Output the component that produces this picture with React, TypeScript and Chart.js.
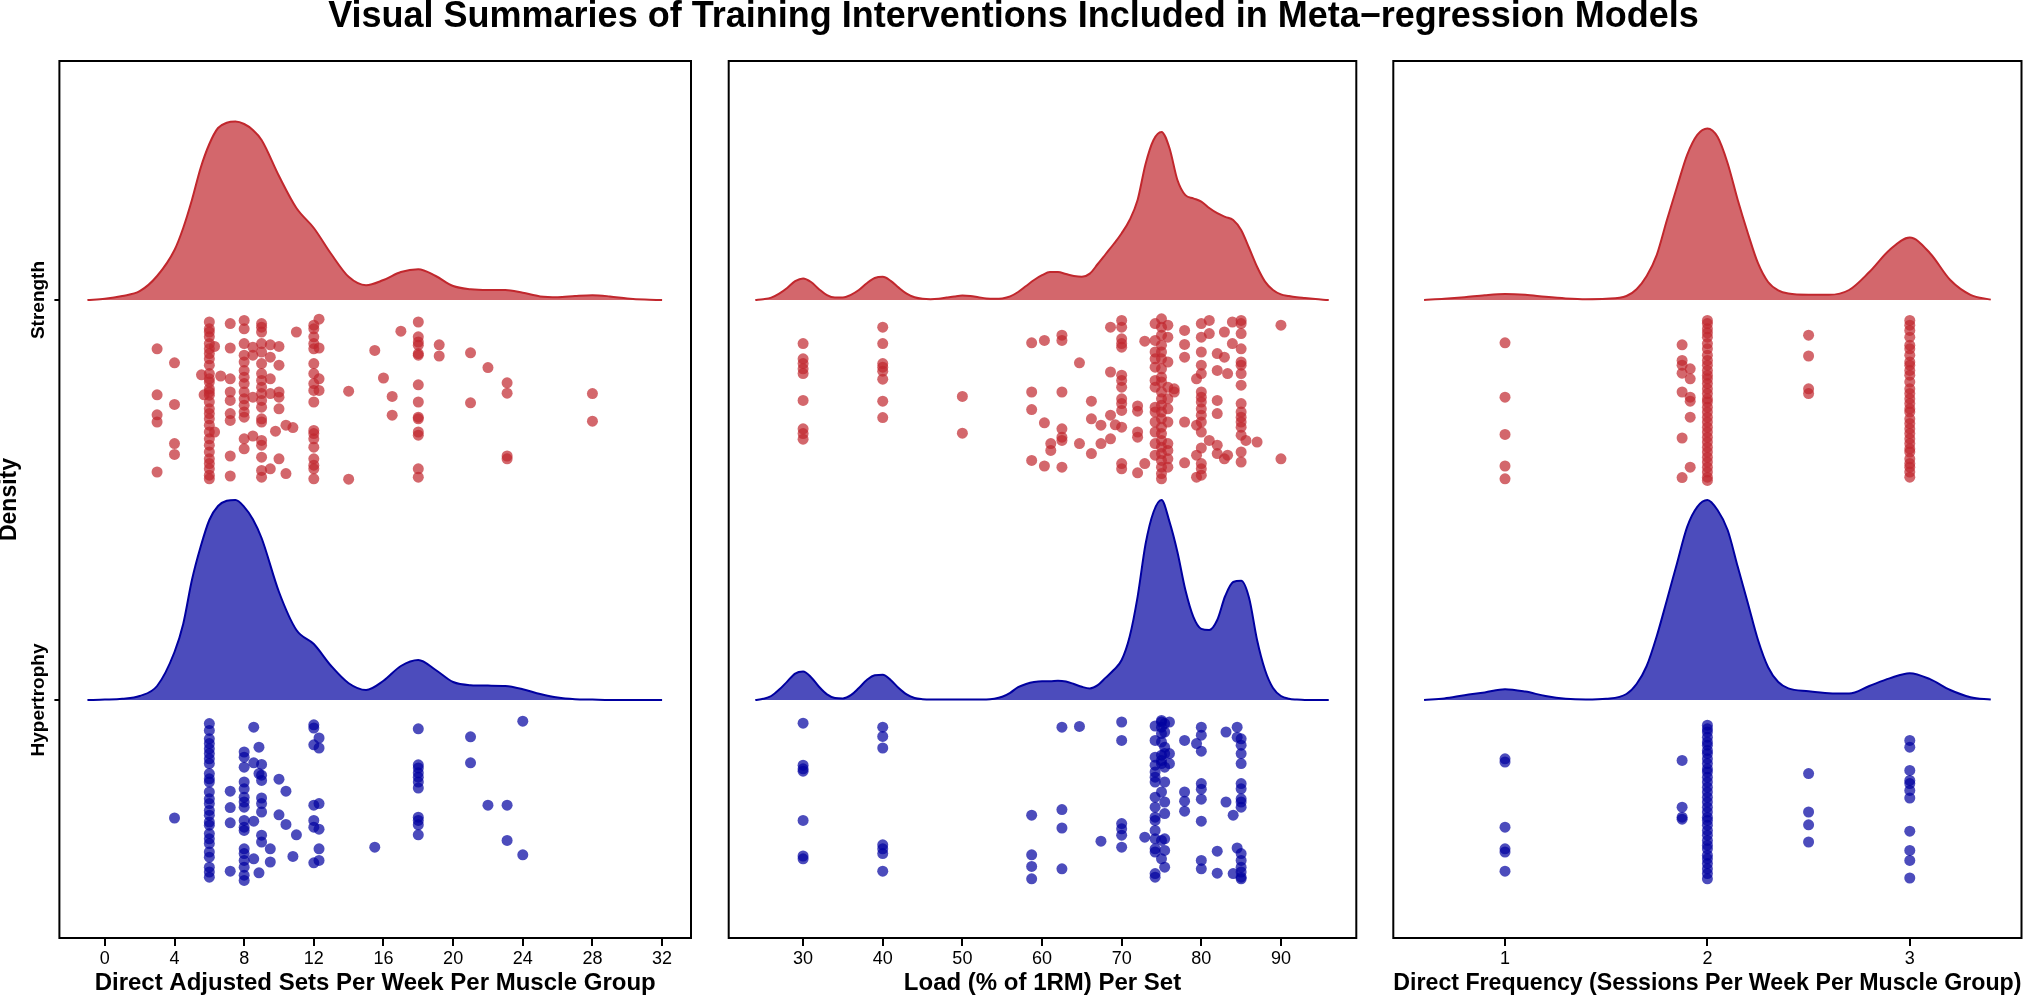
import React, { useEffect, useRef } from 'react';
import { Chart, registerables } from 'chart.js';

Chart.register(...registerables);

// ---------------- DATA ----------------
const chartTitle = 'Visual Summaries of Training Interventions Included in Meta\u2212regression Models';
const groupLabels: [string, number][] = [['Strength', 2], ['Hypertrophy', 1]];
const yLimits = [0.405, 2.5975];

// Panel 1: direct adjusted sets
const setsTitle = 'Direct Adjusted Sets Per Week Per Muscle Group';
const setsLimits = [-2.61, 33.66];
const setsTicks = [0, 4, 8, 12, 16, 20, 24, 28, 32];
const setsGrid = [-1, 0, 1, 2, 3, 4, 4.5, 5, 5.5, 6, 6.5, 7, 7.5, 8, 8.5, 9, 10, 11, 12, 13, 14, 15, 16, 17, 18, 19, 20, 21, 22, 23, 24, 25, 26, 27, 28, 29, 30, 31, 32];
const setsStrengthDensity = [0, 0.003, 0.01, 0.022, 0.06, 0.125, 0.18, 0.25, 0.33, 0.39, 0.43, 0.443, 0.446, 0.44, 0.425, 0.4, 0.31, 0.23, 0.18, 0.115, 0.058, 0.037, 0.05, 0.07, 0.077, 0.06, 0.035, 0.027, 0.025, 0.025, 0.018, 0.009, 0.007, 0.01, 0.012, 0.009, 0.004, 0.001, 0];
const setsHyperDensity = [0, 0.001, 0.003, 0.01, 0.035, 0.12, 0.19, 0.3, 0.383, 0.45, 0.485, 0.498, 0.5, 0.483, 0.452, 0.405, 0.27, 0.175, 0.14, 0.085, 0.042, 0.025, 0.048, 0.085, 0.1, 0.075, 0.045, 0.037, 0.036, 0.035, 0.027, 0.015, 0.006, 0.002, 0.001, 0, 0, 0, 0];
// [x value, drops below the ridge baseline]
const setsStrengthPoints: [number, number[]][] = [
  [3, [0.122, 0.237, 0.287, 0.305, 0.43]],
  [4, [0.157, 0.261, 0.359, 0.386]],
  [5.55, [0.187]],
  [5.7, [0.237]],
  [6, [0.055, 0.072, 0.08, 0.092, 0.109, 0.122, 0.134, 0.147, 0.163, 0.184, 0.197, 0.205, 0.222, 0.23, 0.238, 0.255, 0.272, 0.284, 0.297, 0.313, 0.33, 0.347, 0.363, 0.38, 0.397, 0.409, 0.422, 0.438, 0.447]],
  [6.3, [0.116, 0.33]],
  [6.65, [0.19]],
  [7.2, [0.059, 0.12, 0.197, 0.23, 0.251, 0.284, 0.301, 0.39, 0.44]],
  [8, [0.051, 0.072, 0.109, 0.138, 0.155, 0.176, 0.193, 0.209, 0.23, 0.247, 0.263, 0.28, 0.293, 0.347, 0.372]],
  [8.5, [0.118, 0.138, 0.243, 0.34]],
  [9, [0.059, 0.068, 0.08, 0.109, 0.13, 0.159, 0.184, 0.201, 0.218, 0.234, 0.251, 0.268, 0.297, 0.305, 0.351, 0.363, 0.393, 0.426, 0.443]],
  [9.5, [0.112, 0.143, 0.197, 0.234, 0.422]],
  [9.8, [0.328]],
  [10, [0.116, 0.163, 0.23, 0.243, 0.272, 0.397]],
  [10.4, [0.313, 0.434]],
  [10.8, [0.319]],
  [11, [0.08]],
  [12, [0.063, 0.072, 0.092, 0.109, 0.122, 0.159, 0.184, 0.209, 0.226, 0.255, 0.326, 0.334, 0.347, 0.368, 0.397, 0.413, 0.422, 0.447]],
  [12.3, [0.048, 0.12, 0.197, 0.226]],
  [14, [0.228, 0.448]],
  [15.5, [0.126]],
  [16, [0.195]],
  [16.5, [0.241, 0.288]],
  [17, [0.078]],
  [18, [0.055, 0.092, 0.105, 0.113, 0.134, 0.138, 0.212, 0.255, 0.293, 0.297, 0.33, 0.338, 0.422, 0.443]],
  [19.2, [0.112, 0.14]],
  [21, [0.132, 0.257]],
  [22, [0.169]],
  [23.1, [0.207, 0.233, 0.39, 0.397]],
  [28, [0.234, 0.303]],
];
const setsHyperPoints: [number, number[]][] = [
  [4, [0.295]],
  [6, [0.059, 0.076, 0.097, 0.109, 0.122, 0.134, 0.147, 0.159, 0.184, 0.197, 0.205, 0.23, 0.247, 0.259, 0.276, 0.288, 0.305, 0.313, 0.334, 0.347, 0.359, 0.38, 0.393, 0.418, 0.43, 0.443]],
  [7.2, [0.228, 0.269, 0.307, 0.428]],
  [8, [0.13, 0.143, 0.168, 0.205, 0.222, 0.243, 0.255, 0.268, 0.301, 0.318, 0.326, 0.372, 0.384, 0.401, 0.418, 0.438, 0.451]],
  [8.55, [0.068, 0.157, 0.303, 0.397]],
  [8.85, [0.118, 0.184, 0.432]],
  [9, [0.161, 0.188, 0.201, 0.245, 0.259, 0.28, 0.338, 0.355]],
  [9.5, [0.372, 0.405]],
  [10, [0.198, 0.287]],
  [10.4, [0.228, 0.311]],
  [10.8, [0.391]],
  [11, [0.337]],
  [12, [0.062, 0.07, 0.112, 0.263, 0.301, 0.318, 0.407]],
  [12.3, [0.095, 0.12, 0.259, 0.323, 0.372, 0.401]],
  [15.5, [0.368]],
  [18, [0.072, 0.162, 0.17, 0.182, 0.193, 0.205, 0.22, 0.293, 0.301, 0.312, 0.337]],
  [21, [0.092, 0.157]],
  [22, [0.263]],
  [23.1, [0.263, 0.351]],
  [24, [0.053, 0.387]],
];

// Panel 2: load
const loadTitle = 'Load (% of 1RM) Per Set';
const loadLimits = [20.66, 99.46];
const loadTicks = [30, 40, 50, 60, 70, 80, 90];
const loadGrid = [24, 25, 26, 27, 28, 29, 30, 31, 32, 33, 34, 35, 36, 37, 38, 39, 40, 41, 42, 43, 44, 45, 46, 47, 48, 49, 50, 51, 52, 53, 54, 55, 56, 57, 58, 59, 60, 61, 62, 63, 64, 65, 66, 67, 68, 69, 70, 71, 72, 73, 74, 75, 76, 77, 78, 79, 80, 81, 82, 83, 84, 85, 86, 87, 88, 89, 90, 91, 92, 93, 94, 95, 96];
const loadStrengthDensity = [
  0, 0.002, 0.006, 0.016, 0.03, 0.047, 0.054, 0.045, 0.027, 0.012,
  0.006, 0.006, 0.013, 0.025, 0.042, 0.055, 0.058, 0.048, 0.031, 0.016,
  0.007, 0.003, 0.002, 0.003, 0.006, 0.009, 0.011, 0.01, 0.007, 0.004,
  0.003, 0.004, 0.009, 0.02, 0.035, 0.05, 0.062, 0.07, 0.07, 0.065,
  0.06, 0.058, 0.066, 0.09, 0.115, 0.14, 0.167, 0.2, 0.25, 0.34,
  0.4, 0.42, 0.38, 0.3, 0.262, 0.254, 0.246, 0.23, 0.217, 0.208,
  0.2, 0.175, 0.13, 0.083, 0.046, 0.025, 0.014, 0.01, 0.007, 0.005,
  0.003, 0.001, 0,
];
const loadHyperDensity = [
  0, 0.003, 0.01, 0.026, 0.046, 0.066, 0.071, 0.057, 0.033, 0.014,
  0.005, 0.004, 0.012, 0.03, 0.05, 0.062, 0.063, 0.05, 0.03, 0.014,
  0.005, 0.002, 0.001, 0.001, 0.001, 0.001, 0.001, 0.001, 0.001, 0.001,
  0.003, 0.008, 0.018, 0.032, 0.04, 0.045, 0.047, 0.047, 0.048, 0.046,
  0.04, 0.033, 0.029, 0.037, 0.056, 0.075, 0.1, 0.158, 0.258, 0.39,
  0.47, 0.5, 0.446, 0.37, 0.275, 0.208, 0.178, 0.175, 0.2, 0.26,
  0.295, 0.298, 0.255, 0.15, 0.075, 0.03, 0.01, 0.003, 0.001, 0,
  0, 0, 0,
];
const loadStrengthPoints: [number, number[]][] = [
  [30, [0.109, 0.147, 0.159, 0.172, 0.184, 0.251, 0.322, 0.334, 0.348]],
  [40, [0.068, 0.109, 0.159, 0.168, 0.178, 0.198, 0.253, 0.294]],
  [50, [0.241, 0.333]],
  [58.7, [0.107, 0.23, 0.274, 0.401]],
  [60.3, [0.101, 0.307, 0.415]],
  [61.1, [0.359, 0.376]],
  [62.5, [0.088, 0.101, 0.23, 0.322, 0.343, 0.351, 0.418]],
  [64.7, [0.157, 0.359]],
  [66.2, [0.253, 0.297, 0.384]],
  [67.4, [0.313, 0.359]],
  [68.6, [0.068, 0.18, 0.288, 0.347]],
  [69.2, [0.312]],
  [70, [0.051, 0.068, 0.097, 0.109, 0.118, 0.188, 0.201, 0.218, 0.247, 0.259, 0.276, 0.318, 0.409, 0.422]],
  [72, [0.265, 0.278, 0.33, 0.343, 0.432]],
  [72.9, [0.103, 0.409]],
  [74.2, [0.059, 0.101, 0.13, 0.147, 0.168, 0.201, 0.218, 0.268, 0.28, 0.305, 0.33, 0.359, 0.388]],
  [75, [0.047, 0.068, 0.088, 0.113, 0.13, 0.147, 0.172, 0.193, 0.205, 0.23, 0.247, 0.263, 0.28, 0.297, 0.318, 0.334, 0.351, 0.368, 0.384, 0.401, 0.418, 0.434, 0.447]],
  [75.8, [0.063, 0.093, 0.155, 0.218, 0.247, 0.272, 0.305, 0.359, 0.376, 0.397, 0.418]],
  [76.6, [0.222, 0.23]],
  [77.9, [0.076, 0.111, 0.143, 0.305, 0.407]],
  [79.4, [0.197, 0.313, 0.388, 0.443]],
  [80, [0.059, 0.093, 0.13, 0.163, 0.184, 0.23, 0.243, 0.255, 0.272, 0.288, 0.305, 0.33, 0.37, 0.409, 0.422, 0.438]],
  [81, [0.051, 0.084, 0.351]],
  [82, [0.134, 0.176, 0.251, 0.284, 0.363, 0.384]],
  [82.9, [0.08, 0.143, 0.397]],
  [83.3, [0.184, 0.388]],
  [83.9, [0.055, 0.109]],
  [85, [0.051, 0.059, 0.084, 0.122, 0.155, 0.163, 0.184, 0.213, 0.259, 0.28, 0.293, 0.305, 0.318, 0.338, 0.38, 0.405]],
  [85.6, [0.351]],
  [87, [0.355]],
  [90, [0.063, 0.397]],
];
const loadHyperPoints: [number, number[]][] = [
  [30, [0.058, 0.163, 0.172, 0.178, 0.301, 0.39, 0.397]],
  [40, [0.068, 0.091, 0.12, 0.362, 0.372, 0.384, 0.428]],
  [58.7, [0.288, 0.387, 0.416, 0.447]],
  [62.5, [0.068, 0.274, 0.32, 0.422]],
  [64.7, [0.066]],
  [67.4, [0.353]],
  [70, [0.055, 0.101, 0.309, 0.322, 0.338, 0.368]],
  [72.9, [0.343]],
  [74.2, [0.065, 0.101, 0.143, 0.163, 0.18, 0.193, 0.205, 0.243, 0.268, 0.293, 0.301, 0.326, 0.347, 0.372, 0.38, 0.434, 0.443]],
  [75, [0.051, 0.055, 0.068, 0.084, 0.105, 0.138, 0.151, 0.159, 0.23, 0.351, 0.397]],
  [75.4, [0.059, 0.08, 0.118, 0.134, 0.168, 0.205, 0.255, 0.284, 0.347, 0.376, 0.418]],
  [76, [0.055, 0.134, 0.159]],
  [77.9, [0.101, 0.23, 0.253, 0.278]],
  [79.4, [0.109]],
  [80, [0.068, 0.088, 0.128, 0.209, 0.223, 0.248, 0.303, 0.401, 0.422]],
  [82, [0.378, 0.433]],
  [83.1, [0.08, 0.255]],
  [84, [0.288, 0.434]],
  [84.5, [0.068, 0.093, 0.37]],
  [85, [0.097, 0.113, 0.134, 0.159, 0.209, 0.222, 0.247, 0.255, 0.268, 0.384, 0.401, 0.418, 0.43, 0.443, 0.447]],
];

// Panel 3: frequency
const freqTitle = 'Direct Frequency (Sessions Per Week Per Muscle Group)';
const freqLimits = [0.448, 3.552];
const freqTicks = [1, 2, 3];
const freqGrid = [0.6, 0.7, 0.8, 0.9, 1.0, 1.1, 1.2, 1.3, 1.4, 1.5, 1.6, 1.65, 1.7, 1.75, 1.8, 1.85, 1.9, 1.95, 2.0, 2.05, 2.1, 2.15, 2.2, 2.25, 2.3, 2.35, 2.4, 2.5, 2.6, 2.7, 2.8, 2.9, 3.0, 3.1, 3.2, 3.3, 3.4];
const freqStrengthDensity = [0, 0.003, 0.007, 0.012, 0.015, 0.013, 0.008, 0.004, 0.002, 0.003, 0.01, 0.027, 0.06, 0.113, 0.2, 0.283, 0.363, 0.413, 0.429, 0.408, 0.342, 0.25, 0.167, 0.092, 0.045, 0.024, 0.016, 0.013, 0.013, 0.025, 0.07, 0.125, 0.156, 0.117, 0.05, 0.013, 0.001];
const freqHyperDensity = [0, 0.004, 0.012, 0.019, 0.027, 0.021, 0.01, 0.003, 0.001, 0.003, 0.015, 0.04, 0.085, 0.16, 0.25, 0.342, 0.433, 0.483, 0.5, 0.475, 0.425, 0.333, 0.242, 0.15, 0.082, 0.045, 0.029, 0.022, 0.017, 0.016, 0.035, 0.054, 0.067, 0.052, 0.025, 0.007, 0.001];
const freqStrengthPoints: [number, number[]][] = [
  [1, [0.107, 0.243, 0.336, 0.415, 0.447]],
  [1.875, [0.112, 0.151, 0.163, 0.183, 0.23, 0.345, 0.444]],
  [1.915, [0.172, 0.197, 0.243, 0.253, 0.293, 0.418]],
  [2, [0.051, 0.059, 0.072, 0.082, 0.093, 0.109, 0.122, 0.138, 0.151, 0.163, 0.176, 0.188, 0.197, 0.209, 0.222, 0.234, 0.247, 0.255, 0.268, 0.28, 0.293, 0.305, 0.318, 0.33, 0.343, 0.355, 0.368, 0.38, 0.393, 0.405, 0.418, 0.43, 0.443, 0.451]],
  [2.5, [0.088, 0.14, 0.222, 0.234]],
  [3, [0.051, 0.063, 0.076, 0.093, 0.113, 0.122, 0.138, 0.155, 0.163, 0.176, 0.188, 0.205, 0.222, 0.234, 0.247, 0.259, 0.272, 0.28, 0.297, 0.309, 0.322, 0.334, 0.347, 0.359, 0.372, 0.38, 0.397, 0.409, 0.418, 0.43, 0.443]],
];
const freqHyperPoints: [number, number[]][] = [
  [1, [0.147, 0.155, 0.318, 0.372, 0.38, 0.428]],
  [1.875, [0.151, 0.268, 0.293, 0.298]],
  [2, [0.063, 0.072, 0.08, 0.093, 0.105, 0.113, 0.126, 0.134, 0.147, 0.159, 0.172, 0.18, 0.193, 0.205, 0.218, 0.23, 0.243, 0.255, 0.268, 0.28, 0.293, 0.301, 0.313, 0.326, 0.338, 0.351, 0.363, 0.372, 0.388, 0.397, 0.409, 0.422, 0.434, 0.447]],
  [2.5, [0.184, 0.28, 0.312, 0.355]],
  [3, [0.101, 0.118, 0.176, 0.201, 0.209, 0.226, 0.245, 0.328, 0.376, 0.401, 0.445]],
];

// ---------------- STYLE ----------------
const FONT = "'Liberation Sans', Arial, Helvetica, sans-serif";
const RED = 'rgb(193,39,45)';
const RED_FILL = 'rgba(193,39,45,0.7)';
const BLUE = 'rgb(0,0,160)';
const BLUE_FILL = 'rgba(0,0,160,0.7)';
const W = 2027;
const H = 998;

type PanelCfg = {
  title: string; limits: number[]; ticks: number[]; grid: number[];
  sDens: number[]; hDens: number[]; sPts: [number, number[]][]; hPts: [number, number[]][];
  padLeft: number; padRight: number; first: boolean;
};

const panels: PanelCfg[] = [
  { title: setsTitle, limits: setsLimits, ticks: setsTicks, grid: setsGrid, sDens: setsStrengthDensity, hDens: setsHyperDensity, sPts: setsStrengthPoints, hPts: setsHyperPoints, padLeft: 54.4, padRight: W - 691, first: true },
  { title: loadTitle, limits: loadLimits, ticks: loadTicks, grid: loadGrid, sDens: loadStrengthDensity, hDens: loadHyperDensity, sPts: loadStrengthPoints, hPts: loadHyperPoints, padLeft: 723.7, padRight: W - 1356.3, first: false },
  { title: freqTitle, limits: freqLimits, ticks: freqTicks, grid: freqGrid, sDens: freqStrengthDensity, hDens: freqHyperDensity, sPts: freqStrengthPoints, hPts: freqHyperPoints, padLeft: 1388.3, padRight: W - 2021.7, first: false },
];

const densityDataset = (grid: number[], dens: number[], base: number, line: string, fill: string) => ({
  type: 'line' as const,
  data: grid.map((x, i) => ({ x, y: base + dens[i] })),
  borderColor: line,
  backgroundColor: fill,
  borderWidth: 2,
  pointRadius: 0,
  fill: { value: base },
  cubicInterpolationMode: 'monotone' as const,
  order: 2,
});

const pointDataset = (pts: [number, number[]][], base: number, color: string) => ({
  type: 'scatter' as const,
  data: pts.flatMap(([x, offs]) => offs.map((o) => ({ x, y: base - o }))),
  backgroundColor: color,
  borderWidth: 0,
  pointRadius: 5.5,
  order: 1,
});

const decorPlugin = {
  id: 'decor',
  afterDraw(chart: any, _args: any, opts: any) {
    const { ctx, chartArea: a } = chart;
    ctx.save();
    ctx.strokeStyle = '#000';
    ctx.lineWidth = 2;
    ctx.strokeRect(a.left, a.top, a.right - a.left, a.bottom - a.top);
    if (opts && opts.first) {
      ctx.fillStyle = '#000';
      ctx.textAlign = 'center';
      ctx.textBaseline = 'alphabetic';
      ctx.font = `bold 36px ${FONT}`;
      ctx.fillText(chartTitle, W / 2, 27);
      ctx.save();
      ctx.translate(16, (a.top + a.bottom) / 2);
      ctx.rotate(-Math.PI / 2);
      ctx.font = `bold 23px ${FONT}`;
      ctx.fillText('Density', 0, 0);
      ctx.restore();
      const ys = chart.scales.y;
      ctx.font = `bold 19px ${FONT}`;
      for (const [label, v] of groupLabels) {
        ctx.save();
        ctx.translate(43.5, ys.getPixelForValue(v));
        ctx.rotate(-Math.PI / 2);
        ctx.fillText(label, 0, 0);
        ctx.restore();
      }
    }
    ctx.restore();
  },
};

function Panel({ cfg }: { cfg: PanelCfg }) {
  const ref = useRef<HTMLCanvasElement>(null);
  useEffect(() => {
    const chart = new Chart(ref.current as HTMLCanvasElement, {
      type: 'scatter',
      data: {
        datasets: [
          densityDataset(cfg.grid, cfg.sDens, 2, RED, RED_FILL),
          densityDataset(cfg.grid, cfg.hDens, 1, BLUE, BLUE_FILL),
          pointDataset(cfg.sPts, 2, RED_FILL),
          pointDataset(cfg.hPts, 1, BLUE_FILL),
        ] as any,
      },
      options: {
        animation: false,
        responsive: false,
        devicePixelRatio: 1,
        events: [],
        layout: { padding: { left: cfg.padLeft, right: cfg.padRight, top: 61, bottom: 0 } },
        plugins: {
          legend: { display: false },
          tooltip: { enabled: false },
          decor: { first: cfg.first },
        } as any,
        scales: {
          x: {
            type: 'linear',
            min: cfg.limits[0],
            max: cfg.limits[1],
            afterBuildTicks: (s: any) => { s.ticks = cfg.ticks.map((v) => ({ value: v })); },
            afterFit: (s: any) => { s.height = 60; },
            ticks: { color: '#000', font: { family: FONT, size: 18 }, padding: 2, callback: (v: any) => String(v), maxRotation: 0, autoSkip: false },
            grid: { drawOnChartArea: false, drawTicks: true, tickLength: 8, color: '#000', lineWidth: 2 },
            border: { display: false },
            title: { display: true, text: cfg.title, color: '#000', font: { family: FONT, size: 24, weight: 'bold' }, padding: { top: 0, bottom: 0 } },
          },
          y: {
            type: 'linear',
            display: cfg.first,
            min: yLimits[0],
            max: yLimits[1],
            afterBuildTicks: (s: any) => { s.ticks = groupLabels.map(([, v]) => ({ value: v })); },
            afterFit: (s: any) => { s.width = 5; },
            ticks: { display: false },
            grid: { drawOnChartArea: false, drawTicks: true, tickLength: 5, color: '#000', lineWidth: 2 },
            border: { display: false },
          },
        } as any,
      },
      plugins: [decorPlugin],
    });
    return () => chart.destroy();
  }, []);
  return <canvas ref={ref} width={W} height={H} style={{ position: 'absolute', left: 0, top: 0, width: W, height: H }} />;
}

export default function App() {
  return (
    <div style={{ position: 'fixed', left: 0, top: 0, width: W, height: H, background: '#fff', overflow: 'hidden' }}>
      {panels.map((p, i) => <Panel key={i} cfg={p} />)}
    </div>
  );
}
